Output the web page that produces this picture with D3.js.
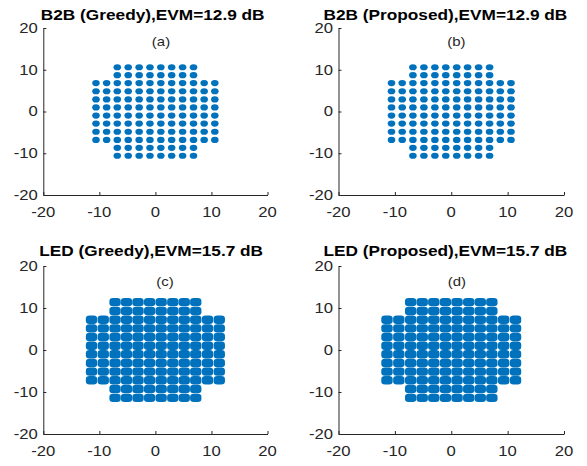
<!DOCTYPE html>
<html><head><meta charset="utf-8">
<script src="https://cdn.jsdelivr.net/npm/d3@7"></script>
<style>
html,body{margin:0;padding:0;background:#fff;}
svg{display:block;font-family:"Liberation Sans",Arial,sans-serif;}
</style></head>
<body>
<svg id="chart" width="587" height="466"></svg>
<script>
// ---- data ----
const titles = ["B2B (Greedy),EVM=12.9 dB","B2B (Proposed),EVM=12.9 dB","LED (Greedy),EVM=15.7 dB","LED (Proposed),EVM=15.7 dB"];
const panelLabels = ["(a)","(b)","(c)","(d)"];
const tickValues = [-20,-10,0,10,20];
// constellation levels (I and Q) of the 128-QAM cross constellation
const levelsB2B = [-10.6,-8.7,-6.8,-4.85,-2.9,-0.97,0.97,2.9,4.85,6.8,8.7,10.6];
const levelsLED = [-11.4,-9.3,-7.2,-5.15,-3.1,-1.03,1.03,3.1,5.15,7.2,9.3,11.4];
// cluster spread (diameter, in signal units)
const spreadB2B = 1.35;
const spreadLED = 2.02;

// ---- layout ----
const panels = [
  {l:43.3, r:267.5, t:28, b:195, titleX:152.7, titleY:20, levels:levelsB2B, spread:spreadB2B, lab:[1.0,16.4], kind:"dot"},
  {l:338.5, r:564, t:28, b:195, titleX:445.4, titleY:20, levels:levelsB2B, spread:spreadB2B, lab:[0.9,16.4], kind:"dot"},
  {l:43.3, r:267.5, t:266, b:434, titleX:151.2, titleY:256, levels:levelsLED, spread:spreadLED, lab:[1.7,16.0], kind:"blob"},
  {l:338.5, r:564, t:266, b:434, titleX:445.4, titleY:256, levels:levelsLED, spread:spreadLED, lab:[1.0,16.0], kind:"blob"}
];
const blue = "#0072BD", axisCol = "#262626";
const stretch = 1.15;
const svg = d3.select("#chart");

function sText(g, x, y, txt, size, weight, anchor, base){
  const t = g.append("g").attr("transform", `translate(${x},${y}) scale(${stretch},1)`);
  t.append("text").attr("x",0).attr("y",0)
    .attr("text-anchor", anchor).attr("dominant-baseline", base||"auto")
    .attr("font-size", size).attr("font-weight", weight).attr("fill", weight==="bold"?"#000":axisCol)
    .text(txt);
}

panels.forEach((p, i) => {
  const x = d3.scaleLinear().domain([-20,20]).range([p.l, p.r]);
  const y = d3.scaleLinear().domain([-20,20]).range([p.b, p.t]);
  const g = svg.append("g");

  // constellation points
  const pts = [];
  p.levels.forEach(xi => p.levels.forEach(yi => {
    const outer = Math.abs(xi) > 8 && Math.abs(yi) > 8;
    if (!outer) pts.push([xi, yi]);
  }));
  const w = x(p.spread) - x(0), h = y(0) - y(p.spread);
  if (p.kind === "dot") {
    g.selectAll("ellipse").data(pts).enter().append("ellipse")
      .attr("cx", d => x(d[0])).attr("cy", d => y(d[1]))
      .attr("rx", w/2).attr("ry", h/2 + 0.3).attr("fill", blue);
  } else {
    g.selectAll("rect").data(pts).enter().append("rect")
      .attr("x", d => x(d[0]) - w/2).attr("y", d => y(d[1]) - h/2)
      .attr("width", w).attr("height", h).attr("rx", 3.6).attr("ry", 3.0)
      .attr("fill", blue);
  }

  // axes
  const xa = g.append("g").attr("transform", `translate(0,${p.b})`)
    .call(d3.axisBottom(x).tickValues(tickValues).tickSizeInner(-3).tickSizeOuter(0).tickFormat(""));
  const ya = g.append("g").attr("transform", `translate(${p.l},0)`)
    .call(d3.axisLeft(y).tickValues(tickValues).tickSizeInner(-3).tickSizeOuter(0).tickFormat(""));
  [xa, ya].forEach(a => {
    a.select(".domain").attr("stroke", axisCol).attr("stroke-width", 1);
    a.selectAll(".tick line").attr("stroke", axisCol);
  });
  tickValues.forEach(v => {
    sText(g, x(v), p.b + 18.5, String(v), 14.5, "normal", "middle", "middle");
    sText(g, p.l - 5.5, y(v) + 1, String(v), 14.5, "normal", "end", "middle");
  });

  // title & panel label
  sText(g, p.titleX, p.titleY, titles[i], 15, "bold", "middle");
  sText(g, x(p.lab[0]), y(p.lab[1]), panelLabels[i], 13, "normal", "middle", "middle");
});
</script>
</body></html>
